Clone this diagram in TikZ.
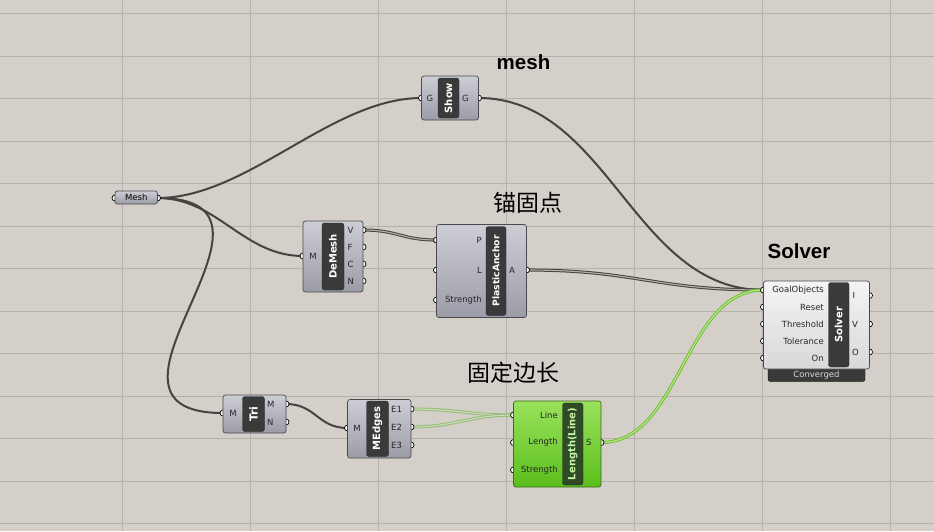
\documentclass[tikz,border=0pt]{standalone}
\usepackage{fontspec}
\usepackage{tikz}
\newfontfamily\portfont{DejaVu Sans}
\newfontfamily\titlefont{Liberation Sans}
\newfontfamily\cjkfont{Noto Sans CJK SC}

\definecolor{canvasbg}{HTML}{D4D0C9}
\definecolor{gridcol}{HTML}{B6B2AB}
\definecolor{compTop}{HTML}{CDCDD5}
\definecolor{compBot}{HTML}{9C9CA8}
\definecolor{compLine}{HTML}{4A4A4E}
\definecolor{barFill}{HTML}{3A3A3A}
\definecolor{solverTop}{HTML}{F4F4F4}
\definecolor{solverBot}{HTML}{D8D8D8}
\definecolor{greenTop}{HTML}{9AE25C}
\definecolor{greenBot}{HTML}{5BBE1C}
\definecolor{greenLine}{HTML}{3D6A1E}
\definecolor{greenBar}{HTML}{2E4A26}
\definecolor{greenText}{HTML}{C8F2A6}
\definecolor{wireDark}{HTML}{464440}
\definecolor{wireLight}{HTML}{B4B0A8}
\definecolor{wireGreen}{HTML}{72C030}
\definecolor{wireGreenLight}{HTML}{B8E690}
\definecolor{wireFade}{HTML}{96BC74}
\definecolor{wireFadeLight}{HTML}{CCDCBE}

\tikzset{
  comp/.style={draw=compLine, line width=0.7pt, rounded corners=2.5pt,
    top color=compTop, bottom color=compBot, inner sep=0pt},
  solverbody/.style={comp, top color=solverTop, bottom color=solverBot},
  greenbody/.style={comp, draw=greenLine, top color=greenTop, bottom color=greenBot},
  bar/.style={fill=barFill, draw=black!85, line width=0.4pt, rounded corners=2.5pt,
    rotate=90, inner sep=0pt, text=white,
    font=\portfont\bfseries\fontsize{10}{10}\selectfont},
  greenbar/.style={bar, fill=greenBar, text=greenText},
  inport/.style={anchor=east, inner sep=0pt, text=black!85,
    font=\portfont\fontsize{8.5}{9}\selectfont},
  outport/.style={inport, anchor=west},
  midport/.style={inport, anchor=center},
  nub/.style={fill=white, draw=black, line width=0.7pt},
  wire/.style={draw=wireDark, line width=2pt},
  listwire/.style={draw=wireDark, line width=1pt, double=wireLight, double distance=1.1pt},
  greenwire/.style={draw=wireGreen, line width=1pt, double=wireGreenLight, double distance=1.1pt},
  fadewire/.style={draw=wireFade, line width=1pt, double=wireFadeLight, double distance=1.1pt},
  heading/.style={inner sep=0pt, anchor=base, font=\titlefont\bfseries\fontsize{20.5}{22}\selectfont},
  cjkheading/.style={inner sep=0pt, font=\cjkfont\fontsize{23}{24}\selectfont},
}

\begin{document}
\begin{tikzpicture}[x=1pt,y=-1pt]
  \fill[canvasbg] (0,0) rectangle (934,531);
  \useasboundingbox (0,0) rectangle (934,531);

  % canvas grid
  \foreach \gx in {0,...,6}
    \draw[gridcol, line width=0.9pt] (122.5+128*\gx,0) -- (122.5+128*\gx,531);
  \foreach \gy in {0,...,12}
    \draw[gridcol, line width=0.9pt] (0,13.5+42.5*\gy) -- (934,13.5+42.5*\gy);

  % ports
  \coordinate (meshIn) at (115,198);
  \coordinate (meshOut) at (157.5,198);
  \coordinate (showIn) at (421.5,98);
  \coordinate (showOut) at (478.5,98);
  \coordinate (dmM) at (303,256);
  \coordinate (dmV) at (363,230);
  \coordinate (dmF) at (363,247);
  \coordinate (dmC) at (363,264);
  \coordinate (dmN) at (363,281);
  \coordinate (paP) at (436.5,240);
  \coordinate (paL) at (436.5,270);
  \coordinate (paS) at (436.5,300);
  \coordinate (paA) at (526.5,270);
  \coordinate (slvGoal) at (763.5,290);
  \coordinate (slvReset) at (763.5,307);
  \coordinate (slvThres) at (763.5,324);
  \coordinate (slvTol) at (763.5,341);
  \coordinate (slvOn) at (763.5,358);
  \coordinate (slvI) at (869.5,295.5);
  \coordinate (slvV) at (869.5,324);
  \coordinate (slvO) at (869.5,352);
  \coordinate (triM) at (223,413);
  \coordinate (triOutM) at (286,404);
  \coordinate (triOutN) at (286,422);
  \coordinate (meM) at (347.5,428);
  \coordinate (meE1) at (411,409);
  \coordinate (meE2) at (411,427);
  \coordinate (meE3) at (411,445);
  \coordinate (lenLine) at (513.5,415);
  \coordinate (lenLength) at (513.5,442.5);
  \coordinate (lenStrength) at (513.5,470);
  \coordinate (lenS) at (601,442.5);

  % wires
  \draw[wire] (meshOut) .. controls +(90,0) and +(-90,0) .. (showIn);
  \draw[wire] (meshOut) .. controls +(60,0) and +(-60,0) .. (dmM);
  \draw[wire] (meshOut) .. controls +(160,0) and +(-160,0) .. (triM);
  \draw[wire] (showOut) .. controls +(130,0) and +(-130,0) .. (slvGoal);
  \draw[listwire] (dmV) .. controls +(35,0) and +(-35,0) .. (paP);
  \draw[listwire] (paA) .. controls +(110,0) and +(-110,0) .. (slvGoal);
  \draw[wire] (triOutM) .. controls +(30,0) and +(-30,0) .. (meM);
  \draw[fadewire] (meE1) .. controls +(45,0) and +(-45,0) .. (lenLine);
  \draw[fadewire] (meE2) .. controls +(45,0) and +(-45,0) .. (lenLine);
  \draw[greenwire] (lenS) .. controls +(80,0) and +(-80,0) .. (slvGoal);

  % nubs
  \foreach \p in {meshIn,meshOut,showIn,showOut,dmM,dmV,dmF,dmC,dmN,paP,paL,paS,paA,
      slvGoal,slvReset,slvThres,slvTol,slvOn,slvI,slvV,slvO,triM,triOutM,triOutN,
      meM,meE1,meE2,meE3,lenLine,lenLength,lenStrength,lenS}
    \filldraw[nub] (\p) circle[radius=3pt];

  % Mesh parameter
  \node[comp, minimum width=42.5, minimum height=13] (meshParam) at (136.25,197.5)
    {\portfont\fontsize{8.5}{9}\selectfont Mesh};

  % Show
  \node[comp, minimum width=57, minimum height=44] (show) at (450,98) {};
  \node[bar, minimum width=40, minimum height=21] (showBar) at (448.5,98) {Show};
  \node[midport] (showInLbl) at (430,98) {G};
  \node[outport] (showOutLbl) at (462,98) {G};

  % DeMesh
  \node[comp, minimum width=60, minimum height=71] (deMesh) at (333,256.5) {};
  \node[bar, minimum width=67, minimum height=22] (deMeshBar) at (333,256.5) {DeMesh};
  \node[midport] (dmMLbl) at (313,256) {M};
  \node[outport] (dmVLbl) at (347.5,230) {V};
  \node[outport] (dmFLbl) at (347.5,247) {F};
  \node[outport] (dmCLbl) at (347.5,264) {C};
  \node[outport] (dmNLbl) at (347.5,281) {N};

  % PlasticAnchor
  \node[comp, minimum width=90, minimum height=93] (anchor) at (481.5,271) {};
  \node[bar, minimum width=89, minimum height=20,
    font=\portfont\bfseries\fontsize{9.2}{10}\selectfont] (anchorBar) at (496,271) {PlasticAnchor};
  \node[inport] (paPLbl) at (482,240) {P};
  \node[inport] (paLLbl) at (482,270) {L};
  \node[inport] (paSLbl) at (482,300) {Strength};
  \node[outport] (paALbl) at (509,270) {A};

  % Solver
  \draw[fill=barFill, rounded corners=2.5pt] (768,355) rectangle (865,381.5);
  \node[font=\portfont\fontsize{8.5}{9}\selectfont, text=white!85!black, inner sep=0pt]
    (converged) at (816.5,375.5) {Converged};
  \node[solverbody, minimum width=106, minimum height=88] (solver) at (816.5,325) {};
  \node[bar, minimum width=84.5, minimum height=20.5] (solverBar) at (838.75,324.75) {Solver};
  \node[inport] (slvGoalLbl) at (824,290) {GoalObjects};
  \node[inport] (slvResetLbl) at (824,307) {Reset};
  \node[inport] (slvThresLbl) at (824,324) {Threshold};
  \node[inport] (slvTolLbl) at (824,341) {Tolerance};
  \node[inport] (slvOnLbl) at (824,358) {On};
  \node[outport] (slvILbl) at (852.5,295.5) {I};
  \node[outport] (slvVLbl) at (852,324) {V};
  \node[outport] (slvOLbl) at (852,352) {O};

  % Tri
  \node[comp, minimum width=63, minimum height=38] (tri) at (254.5,414) {};
  \node[bar, minimum width=35, minimum height=22,
    font=\portfont\bfseries\fontsize{11}{11}\selectfont] (triBar) at (253.5,414) {Tri};
  \node[midport] (triMLbl) at (233,413) {M};
  \node[outport] (triOutMLbl) at (267,404) {M};
  \node[outport] (triOutNLbl) at (267,422) {N};

  % MEdges
  \node[comp, minimum width=63.5, minimum height=58.5] (mEdges) at (379.25,428.75) {};
  \node[bar, minimum width=55.5, minimum height=22] (mEdgesBar) at (377.5,428.75) {MEdges};
  \node[midport] (meMLbl) at (357,428) {M};
  \node[outport] (meE1Lbl) at (391,409) {E1};
  \node[outport] (meE2Lbl) at (391,427) {E2};
  \node[outport] (meE3Lbl) at (391,445) {E3};

  % Length (Line)
  \node[greenbody, minimum width=87.5, minimum height=86] (length) at (557.25,444) {};
  \node[greenbar, minimum width=82, minimum height=20.5] (lengthBar) at (572.75,444) {Length(Line)};
  \node[inport] (lenLineLbl) at (558,415) {Line};
  \node[inport] (lenLengthLbl) at (558,442.5) {Length};
  \node[inport] (lenStrengthLbl) at (558,470) {Strength};
  \node[outport] (lenSLbl) at (586,442.5) {S};

  % headings
  \node[heading] (meshTitle) at (523.5,69.5) {mesh};
  \node[heading] (solverTitle) at (799,258.5) {Solver};
  \node[cjkheading] (anchorTitle) at (528,202.3) {锚固点};
  \node[cjkheading] (lengthTitle) at (513.7,372.5) {固定边长};
\end{tikzpicture}
\end{document}
